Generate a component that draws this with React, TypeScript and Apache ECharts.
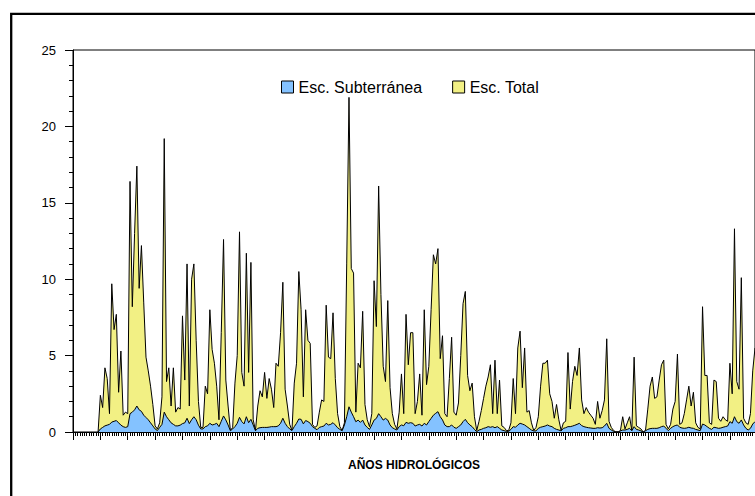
import React, { useEffect, useRef } from 'react';
import * as echarts from 'echarts';

// Monthly categories: 25 hydrological years x 12 months
const years = ['A1','A2','A3','A4','A5','A6','A7','A8','A9','A10','A11','A12','A13','A14','A15','A16','A17','A18','A19','A20','A21','A22','A23','A24','A25'];
const monthNames = ['Oct','Nov','Dic','Ene','Feb','Mar','Abr','May','Jun','Jul','Ago','Sep'];
const categories: string[] = [];
years.forEach((y) => monthNames.forEach((m) => categories.push(`${y}-${m}`)));

const legendNames = ['Esc. Subterránea', 'Esc. Total'];
const xAxisTitle = 'AÑOS HIDROLÓGICOS';
const yTicks = { min: 0, max: 25, step: 5 };

// Esc. Total (monthly)
const totalRunoff: (number | null)[] = [
  null, null, null, null, null, null, null, null, null, null, null, 0,
  2.4, 1.6, 4.2, 3.5, 1.2, 9.7, 6.7, 7.7, 2.6, 5.3, 1.1, 1.3,
  1.2, 16.4, 8.2, 13.0, 17.4, 9.4, 12.2, 8.5, 4.9, 4.0, 3.0, 1.8,
  0.4, 0.2, 0.6, 2.3, 19.2, 3.3, 4.2, 1.7, 4.2, 1.3, 1.6, 1.5,
  7.6, 3.4, 11.0, 1.7, 10.0, 11.0, 6.0, 2.0, 0.3, 0.3, 3.0, 2.5,
  8.0, 5.4, 4.5, 3.0, 0.8, 6.5, 12.6, 3.4, 1.7, 0.1, 0.3, 3.2,
  5.0, 13.1, 3.9, 3.0, 11.7, 3.9, 11.1, 0.8, 0.1, 1.7, 2.7, 2.3,
  3.9, 2.2, 3.5, 2.8, 1.6, 4.5, 4.3, 6.5, 9.8, 2.8, 1.7, 0.5,
  0.1, 3.2, 4.5, 10.5, 8.0, 2.3, 8.0, 6.0, 5.8, 0.5, 0.3, 0.4,
  1.3, 2.1, 2.0, 8.3, 4.9, 4.8, 7.8, 3.5, 1.2, 0.35, 0.1, 0.6,
  11.0, 21.9, 10.7, 10.4, 1.3, 4.5, 4.2, 7.9, 1.8, 0.8, 0.35, 1.2,
  9.9, 6.9, 16.1, 9.0, 4.3, 3.3, 8.6, 2.9, 1.2, 0.5, 0.2, 1.3,
  3.8, 1.2, 7.7, 4.4, 6.5, 6.5, 1.2, 2.0, 3.8, 1.1, 8.0, 3.1,
  4.3, 8.0, 11.6, 11.0, 12.0, 4.8, 6.3, 1.2, 1.0, 3.5, 6.2, 1.3,
  1.1, 1.9, 5.0, 8.4, 9.2, 3.7, 2.7, 3.2, 1.0, 0.1, 0.7, 1.4,
  2.2, 3.0, 3.6, 4.4, 1.2, 4.7, 1.2, 3.4, 0.4, 0.3, 0.1, 0.1,
  0.6, 3.5, 1.2, 5.5, 6.6, 2.9, 5.5, 1.3, 1.4, 0.6, 0.1, 0.3,
  1.0, 3.0, 4.5, 4.5, 4.7, 2.5, 2.0, 0.9, 1.8, 0.8, 0.1, 0.6,
  0.7, 5.2, 1.5, 3.3, 4.3, 3.7, 5.5, 2.1, 1.2, 1.6, 1.3, 1.1,
  0.9, 0.5, 2.0, 0.9, 1.4, 2.1, 6.1, 0.7, 0.3, 0.1, 0, 0,
  0.1, 1.0, 0.2, 0.6, 1.0, 0.1, 4.9, 0.4, 0.3, 0.2, 0, 0.1,
  1.5, 3.0, 3.6, 2.2, 2.3, 3.4, 4.4, 4.7, 0.5, 0.2, 0.5, 1.5,
  2.0, 5.1, 0.5, 0.6, 1.2, 2.1, 3.0, 1.7, 2.6, 0.6, 0.3, 0.2,
  8.2, 3.7, 3.7, 0.6, 0.5, 3.4, 3.3, 0.9, 0.7, 1.0, 0.8, 0.7,
  4.5, 2.5, 13.3, 3.3, 2.8, 10.1, 0.9, 0.6, 0.5, 1.2, 4.0, 5.5,
];

// Esc. Subterránea (monthly)
const groundRunoff: (number | null)[] = [
  null, null, null, null, null, null, null, null, null, null, null, 0,
  0.2, 0.3, 0.4, 0.45, 0.5, 0.65, 0.7, 0.75, 0.6, 0.45, 0.35, 0.3,
  0.35, 1.2, 1.3, 1.45, 1.7, 1.45, 1.35, 1.1, 0.95, 0.8, 0.6, 0.4,
  0.2, 0.1, 0.3, 0.5, 1.3, 1.0, 0.8, 0.6, 0.5, 0.4, 0.4, 0.45,
  0.55, 0.6, 0.9, 0.55, 0.8, 1.0, 0.8, 0.45, 0.2, 0.2, 0.35, 0.4,
  0.57, 0.46, 0.5, 0.57, 0.35, 0.7, 1.05, 0.79, 0.46, 0.08, 0.2, 0.35,
  0.57, 0.96, 0.68, 0.53, 1.0, 0.61, 0.83, 0.46, 0.08, 0.24, 0.28, 0.3,
  0.3, 0.3, 0.32, 0.35, 0.35, 0.35, 0.4, 0.57, 0.9, 0.57, 0.35, 0.2,
  0.09, 0.35, 0.57, 0.85, 0.83, 0.53, 0.75, 0.68, 0.57, 0.35, 0.24, 0.15,
  0.3, 0.35, 0.39, 0.57, 0.46, 0.5, 0.61, 0.46, 0.28, 0.17, 0.08, 0.46,
  1.0, 1.65, 1.3, 1.0, 0.67, 0.78, 0.63, 0.78, 0.46, 0.3, 0.17, 0.46,
  0.78, 0.89, 1.2, 1.0, 0.78, 0.89, 0.78, 0.46, 0.28, 0.2, 0.13, 0.35,
  0.46, 0.41, 0.63, 0.57, 0.61, 0.57, 0.39, 0.46, 0.5, 0.39, 0.57, 0.46,
  0.68, 0.89, 1.1, 1.22, 1.33, 1.0, 0.79, 0.46, 0.35, 0.35, 0.46, 0.31,
  0.24, 0.35, 0.46, 0.68, 0.83, 0.61, 0.46, 0.35, 0.17, 0.02, 0.13, 0.17,
  0.24, 0.28, 0.35, 0.31, 0.35, 0.28, 0.35, 0.24, 0.13, 0.09, 0.04, 0.04,
  0.17, 0.35, 0.31, 0.46, 0.57, 0.52, 0.46, 0.35, 0.24, 0.13, 0.07, 0.07,
  0.24, 0.31, 0.35, 0.39, 0.46, 0.39, 0.35, 0.24, 0.17, 0.13, 0.07, 0.24,
  0.28, 0.35, 0.35, 0.39, 0.44, 0.5, 0.57, 0.42, 0.35, 0.31, 0.28, 0.26,
  0.24, 0.24, 0.28, 0.26, 0.28, 0.39, 0.57, 0.24, 0.13, 0.04, 0, 0,
  0.07, 0.13, 0.13, 0.17, 0.24, 0.08, 0.35, 0.17, 0.13, 0.07, 0, 0.08,
  0.17, 0.22, 0.24, 0.24, 0.24, 0.28, 0.35, 0.39, 0.24, 0.09, 0.24, 0.35,
  0.42, 0.46, 0.31, 0.26, 0.24, 0.26, 0.31, 0.26, 0.24, 0.17, 0.13, 0.09,
  0.52, 0.46, 0.35, 0.24, 0.17, 0.31, 0.28, 0.24, 0.26, 0.31, 0.35, 0.39,
  0.68, 0.57, 1.0, 0.68, 0.57, 0.79, 0.46, 0.24, 0.13, 0.24, 0.52, 0.68,
];

const FONT = '"Liberation Sans", Arial, Helvetica, sans-serif';
const YELLOW = '#F2F084';
const BLUE = '#84C2FF';

export default function App() {
  const ref = useRef<HTMLDivElement>(null);
  useEffect(() => {
    if (!ref.current) return;
    const chart = echarts.init(ref.current, undefined, { renderer: 'svg' });
    chart.setOption({
      animation: false,
      backgroundColor: '#ffffff',
      textStyle: { fontFamily: FONT },
      graphic: [
        {
          type: 'rect',
          silent: true,
          shape: { x: 11.2, y: 13.8, width: 900, height: 700 },
          style: { fill: 'none', stroke: '#000', lineWidth: 2.3 },
          z: 10,
        },
      ],
      legend: {
        left: 281,
        top: 79,
        padding: 0,
        icon: 'rect',
        itemWidth: 12,
        itemHeight: 12,
        itemGap: 30,
        data: legendNames,
        textStyle: { fontSize: 16, color: '#000', fontFamily: FONT },
        itemStyle: { borderColor: '#000', borderWidth: 1 },
      },
      grid: {
        left: 73,
        top: 50,
        width: 683,
        height: 382,
        show: true,
        borderColor: '#000',
        borderWidth: 1,
        backgroundColor: 'transparent',
      },
      xAxis: [
        {
          type: 'category',
          data: categories,
          boundaryGap: false,
          axisLine: { show: true, lineStyle: { color: '#000', width: 1 } },
          axisTick: { show: true, interval: 11, length: 8, lineStyle: { color: '#000', width: 1 } },
          axisLabel: { show: false },
          splitLine: { show: false },
          name: xAxisTitle,
          nameLocation: 'middle',
          nameGap: 27,
          nameTextStyle: { fontWeight: 'bold', fontSize: 12, color: '#000', fontFamily: FONT },
        },
        {
          type: 'category',
          data: categories,
          boundaryGap: false,
          position: 'bottom',
          axisLine: { show: false },
          axisTick: { show: true, interval: 0, length: 4, lineStyle: { color: '#000', width: 1 } },
          axisLabel: { show: false },
          splitLine: { show: false },
        },
      ],
      yAxis: {
        type: 'value',
        min: yTicks.min,
        max: yTicks.max,
        interval: yTicks.step,
        axisLine: { show: true, lineStyle: { color: '#000', width: 1 } },
        axisTick: { show: true, length: 8, lineStyle: { color: '#000', width: 1 } },
        minorTick: { show: true, splitNumber: 5, length: 4, lineStyle: { color: '#000', width: 1 } },
        axisLabel: { fontSize: 13, color: '#000', margin: 17, fontFamily: FONT },
        splitLine: { show: false },
      },
      series: [
        {
          name: 'Esc. Total',
          type: 'line',
          data: totalRunoff,
          symbol: 'none',
          showSymbol: false,
          connectNulls: false,
          lineStyle: { color: '#000', width: 1 },
          itemStyle: { color: YELLOW },
          areaStyle: { color: YELLOW, opacity: 1 },
          z: 2,
        },
        {
          name: 'Esc. Subterránea',
          type: 'line',
          data: groundRunoff,
          symbol: 'none',
          showSymbol: false,
          connectNulls: false,
          lineStyle: { color: '#000', width: 1 },
          itemStyle: { color: BLUE },
          areaStyle: { color: BLUE, opacity: 1 },
          z: 3,
        },
      ],
    });
    return () => chart.dispose();
  }, []);
  return (
    <div
      ref={ref}
      style={{ position: 'absolute', left: 0, top: 0, width: 755, height: 496, background: '#fff' }}
    />
  );
}
